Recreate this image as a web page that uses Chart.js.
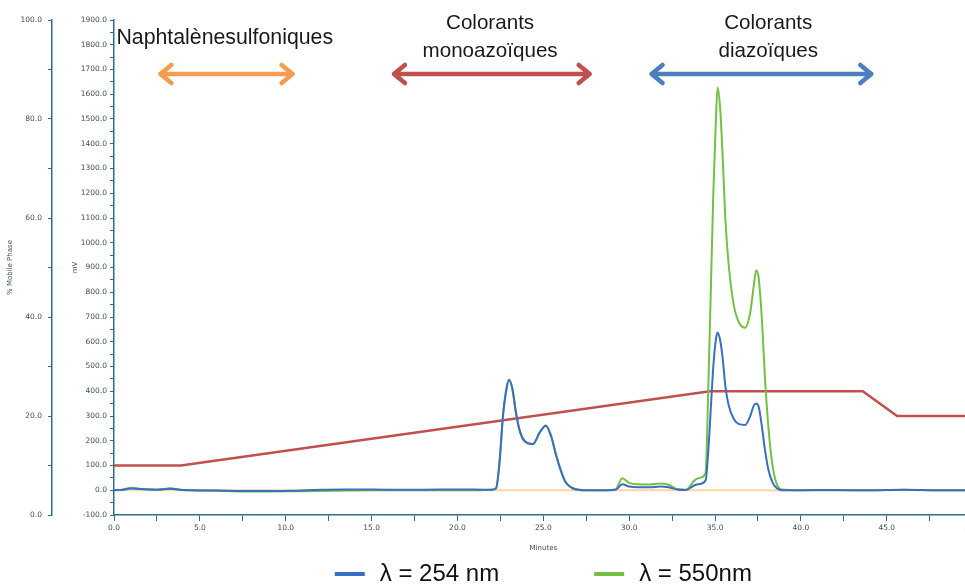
<!DOCTYPE html>
<html>
<head>
<meta charset="utf-8">
<script src="https://cdn.jsdelivr.net/npm/chart.js@4.4.1/dist/chart.umd.min.js"></script>
<style>
html, body { margin: 0; padding: 0; background: #fff; overflow: hidden; }
#wrap { width: 984px; height: 584px; }
</style>
</head>
<body>
<div id="wrap"><canvas id="ChartA"></canvas></div>
<script>
// retention time (min) shared by both detector traces
let minutes = [0, 0.5, 1.0, 1.5, 2.5, 3.3, 3.8, 4.5, 6, 7.5, 9, 10.5, 12, 13.5, 15, 17, 19, 21,
  22.0, 22.25, 22.45, 22.65, 22.85, 23.0, 23.2, 23.4, 23.6, 23.9, 24.4, 24.8, 25.15, 25.45, 25.75, 26.05, 26.3, 26.7,
  27.5, 28.5, 29.2, 29.6, 30.0, 30.5, 31.2, 31.8, 32.3, 32.8, 33.3, 33.8, 34.1, 34.45,
  34.6, 34.75, 34.9, 35.05, 35.15, 35.3, 35.45, 35.6, 35.8, 36.1, 36.4, 36.75, 37.05, 37.25, 37.4, 37.55, 37.75, 37.9, 38.1, 38.35, 38.6, 38.9,
  40, 42, 44, 46, 48, 50];
let mv254 = [0, 2, 7, 5, 2, 6, 2, 0, -1, -3, -3, -2, 2, 3, 3, 2, 3, 3,
  2, 8, 113, 300, 408, 446, 410, 317, 247, 200, 187, 235, 262, 220, 140, 74, 32, 8,
  0, 0, 2, 24, 15, 12, 12, 15, 12, 3, 1, 20, 25, 40,
  152, 327, 502, 610, 637, 605, 529, 421, 341, 287, 267, 264, 300, 341, 351, 334, 246, 166, 85, 31, 8, 0,
  0, 1, 0, 2, 0, 0];
let mv550 = [0, 2, 10, 6, 3, 8, 3, 0, -2, -5, -5, -4, -3, -1, 0, 0, 0, 0,
  2, 8, 113, 300, 408, 444, 408, 315, 246, 199, 186, 234, 260, 219, 139, 73, 32, 8,
  0, 0, 3, 48, 30, 24, 23, 27, 22, 4, 2, 40, 50, 70,
  395, 800, 1203, 1500, 1627, 1540, 1337, 1095, 906, 745, 677, 657, 718, 825, 889, 852, 664, 462, 260, 98, 24, 3,
  0, 0, 0, 2, 0, 0];

// mobile phase gradient (%)
let gradTime = [0, 3.9, 34.7, 43.6, 45.6, 50];
let gradPct = [10, 10, 25, 25, 20, 20];

// zero line trace
let baseTime = [0, 50];
let baseMv = [0, 0];

let legendLabels = ['λ = 254 nm', 'λ = 550nm'];

// compound families shown above the peaks
let groupNames = [['Naphtalènesulfoniques'], ['Colorants', 'monoazoïques'], ['Colorants', 'diazoïques']];
let groupFrom = [2.7, 16.3, 31.3];
let groupTo = [10.4, 27.7, 44.1];
let groupTextAt = [6.45, 21.9, 38.1];
let groupColors = ['#f59c50', '#c0504d', '#4a7ebd'];

const axisColor = '#2f6d8c';
const labelColor = '#3e4d5a';
const smallFont = {family: 'DejaVu Sans', size: 7.5};
const titleFont = {family: 'DejaVu Sans', size: 7};

function pts(xs, ys) {
  return xs.map(function(x, i) { return {x: x, y: ys[i]}; });
}

const groupArrows = {
  id: 'groupArrows',
  afterDraw(chart) {
    const ctx = chart.ctx;
    const xs = chart.scales.x;
    const top = chart.chartArea.top;
    ctx.save();
    groupNames.forEach(function(lines, i) {
      const x1 = xs.getPixelForValue(groupFrom[i]);
      const x2 = xs.getPixelForValue(groupTo[i]);
      const xc = xs.getPixelForValue(groupTextAt[i]);
      ctx.fillStyle = '#1a1a1a';
      ctx.textAlign = 'center';
      ctx.textBaseline = 'middle';
      if (lines.length === 1) {
        ctx.font = '21.3px "Liberation Sans", Arial, sans-serif';
        ctx.fillText(lines[0], xc, top + 18);
      } else {
        ctx.font = '20.6px "Liberation Sans", Arial, sans-serif';
        ctx.fillText(lines[0], xc, top + 3);
        ctx.fillText(lines[1], xc, top + 31);
      }
      const y = top + 54;
      ctx.strokeStyle = groupColors[i];
      ctx.lineWidth = 4.5;
      ctx.lineCap = 'round';
      ctx.lineJoin = 'round';
      ctx.beginPath();
      ctx.moveTo(x1, y); ctx.lineTo(x2, y);
      ctx.moveTo(x1 + 11, y - 9); ctx.lineTo(x1, y); ctx.lineTo(x1 + 11, y + 9);
      ctx.moveTo(x2 - 11, y - 9); ctx.lineTo(x2, y); ctx.lineTo(x2 - 11, y + 9);
      ctx.stroke();
    });
    ctx.restore();
  }
};

const bottomLegend = {
  id: 'bottomLegend',
  afterDraw(chart) {
    const ctx = chart.ctx;
    const area = chart.chartArea;
    const items = chart.data.datasets.filter(function(d) { return d.inLegend; });
    const segW = 30, gap = 15, space = 95;
    ctx.save();
    ctx.font = '24px "Liberation Sans", Arial, sans-serif';
    ctx.textBaseline = 'middle';
    ctx.textAlign = 'left';
    let total = 0;
    items.forEach(function(d, i) {
      total += segW + gap + ctx.measureText(d.label).width + (i ? space : 0);
    });
    let x = (area.left + area.right) / 2 - total / 2;
    const y = chart.height - 10;
    items.forEach(function(d, i) {
      if (i) x += space;
      ctx.fillStyle = d.borderColor;
      ctx.fillRect(x, y - 2, segW, 4);
      x += segW + gap;
      ctx.fillStyle = '#111';
      ctx.fillText(d.label, x, y);
      x += ctx.measureText(d.label).width;
    });
    ctx.restore();
  }
};

var ctx = document.getElementById('ChartA').getContext('2d');
var myChart = new Chart(ctx, {
  type: 'line',
  data: {
    datasets: [
      {label: legendLabels[0], data: pts(minutes, mv254), borderColor: '#3a6ec3', borderWidth: 2,
        yAxisID: 'y', cubicInterpolationMode: 'monotone', pointRadius: 0, inLegend: true},
      {label: legendLabels[1], data: pts(minutes, mv550), borderColor: '#74c044', borderWidth: 2,
        yAxisID: 'y', cubicInterpolationMode: 'monotone', pointRadius: 0, inLegend: true},
      {label: '% Mobile Phase', data: pts(gradTime, gradPct), borderColor: '#c0504d', borderWidth: 2.5,
        yAxisID: 'yP', tension: 0, pointRadius: 0},
      {label: 'zero', data: pts(baseTime, baseMv), borderColor: '#fdd6a2', borderWidth: 2,
        yAxisID: 'y', tension: 0, pointRadius: 0}
    ]
  },
  options: {
    responsive: true,
    maintainAspectRatio: false,
    animation: false,
    layout: {padding: {top: 20, right: 10, bottom: 30, left: 0}},
    plugins: {legend: {display: false}, tooltip: {enabled: false}},
    scales: {
      x: {
        type: 'linear', min: 0, max: 50,
        border: {color: axisColor, width: 1.5},
        grid: {drawOnChartArea: false, tickLength: 6, color: axisColor},
        ticks: {stepSize: 2.5, autoSkip: false, maxRotation: 0, padding: 3, color: labelColor, font: smallFont,
          callback: function(v) { return v % 5 === 0 ? v.toFixed(1) : ''; }},
        title: {display: true, text: 'Minutes', color: labelColor, font: titleFont, padding: {top: 2, bottom: 2}},
        afterFit: function(s) { s.height = 39; }
      },
      y: {
        position: 'left', weight: 0, min: -100, max: 1900,
        border: {color: axisColor, width: 1.5},
        grid: {drawOnChartArea: false, tickLength: 4, color: axisColor},
        ticks: {stepSize: 50, autoSkip: false, padding: 3, color: labelColor, font: smallFont,
          callback: function(v) { return v % 100 === 0 ? v.toFixed(1) : ''; }},
        title: {display: true, text: 'mV', color: labelColor, font: titleFont, padding: {top: 19, bottom: 0}},
        afterFit: function(s) { s.width = 62; }
      },
      yP: {
        position: 'left', weight: 1, min: 0, max: 100,
        border: {color: axisColor, width: 1.5},
        grid: {drawOnChartArea: false, tickLength: 4, color: axisColor},
        ticks: {stepSize: 10, autoSkip: false, padding: 6, color: labelColor, font: smallFont,
          callback: function(v) { return v % 20 === 0 ? v.toFixed(1) : ''; }},
        title: {display: true, text: '% Mobile Phase', color: labelColor, font: titleFont, padding: {top: 6, bottom: 0}},
        afterFit: function(s) { s.width = 52; }
      }
    }
  },
  plugins: [groupArrows, bottomLegend]
});
</script>
</body>
</html>
